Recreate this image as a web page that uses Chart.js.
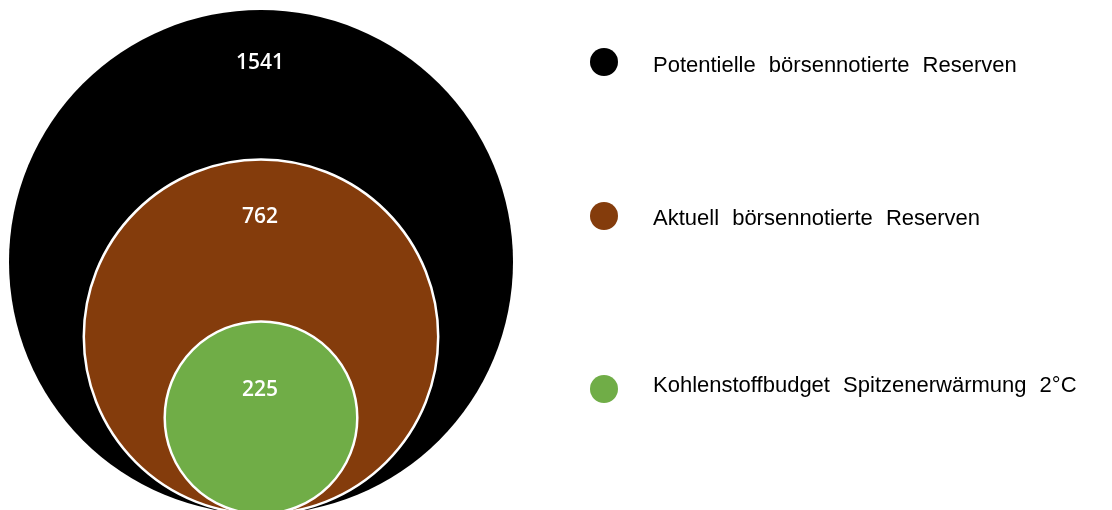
<!DOCTYPE html>
<html>
<head>
<meta charset="utf-8">
<script src="https://cdn.jsdelivr.net/npm/chart.js@4/dist/chart.umd.min.js"></script>
<style>
  html, body { margin: 0; padding: 0; background: #fff; }
</style>
</head>
<body>
<canvas id="circleChart" width="1112" height="510"></canvas>
<script>
const categories = ['Potentielle börsennotierte Reserven', 'Aktuell börsennotierte Reserven', 'Kohlenstoffbudget Spitzenerwärmung 2°C'];
const values = [1541, 762, 225];
const colors = ['#000000', '#843c0c', '#70ad47'];

// layout in pixels
const W = 1112, H = 510;
const centerX = 261;
const baseY = 514;       // circles all sit on this line
const maxRadius = 252;   // radius of the largest circle
const rowY = [62, 216, 389];        // value labels + legend markers
const textBaseline = [72, 225, 392]; // legend text
const legendX = 604, legendR = 14, legendTextX = 653;

// area proportional to value
const k = maxRadius / Math.sqrt(Math.max(...values));
const radii = values.map(v => k * Math.sqrt(v));
const points = values.map((v, i) => ({ x: centerX, y: baseY - radii[i], r: radii[i] }));

const labelPlugin = {
  id: 'labelPlugin',
  afterDatasetsDraw(chart) {
    const c = chart.ctx;
    const meta = chart.getDatasetMeta(0);
    c.save();
    // values inside the circles
    c.fillStyle = '#ffffff';
    c.font = '600 21px "Open Sans"';
    c.textAlign = 'center';
    c.textBaseline = 'middle';
    meta.data.forEach((el, i) => {
      c.fillText(String(values[i]), el.x - 1, rowY[i] + 1);
    });
    // legend
    c.textAlign = 'left';
    c.textBaseline = 'alphabetic';
    c.font = '22px "Liberation Sans", Arial, sans-serif';
    if ('wordSpacing' in c) c.wordSpacing = '7px';
    categories.forEach((name, i) => {
      c.beginPath();
      c.arc(legendX, rowY[i], legendR, 0, Math.PI * 2);
      c.fillStyle = colors[i];
      c.fill();
      c.fillStyle = '#000000';
      c.fillText(name, legendTextX, textBaseline[i]);
    });
    c.restore();
  }
};

const ctx = document.getElementById('circleChart');

new Chart(ctx, {
  type: 'bubble',
  data: {
    datasets: [{
      label: 'Reserven',
      data: points,
      backgroundColor: colors,
      borderColor: '#ffffff',
      borderWidth: [0, 2.5, 2.5],
      clip: false
    }]
  },
  options: {
    responsive: false,
    animation: false,
    events: [],
    layout: { padding: 0, autoPadding: false },
    scales: {
      x: { type: 'linear', min: 0, max: W, display: false },
      y: { type: 'linear', min: 0, max: H, reverse: true, display: false }
    },
    plugins: {
      legend: { display: false },
      tooltip: { enabled: false }
    }
  },
  plugins: [labelPlugin]
});
</script>
</body>
</html>
